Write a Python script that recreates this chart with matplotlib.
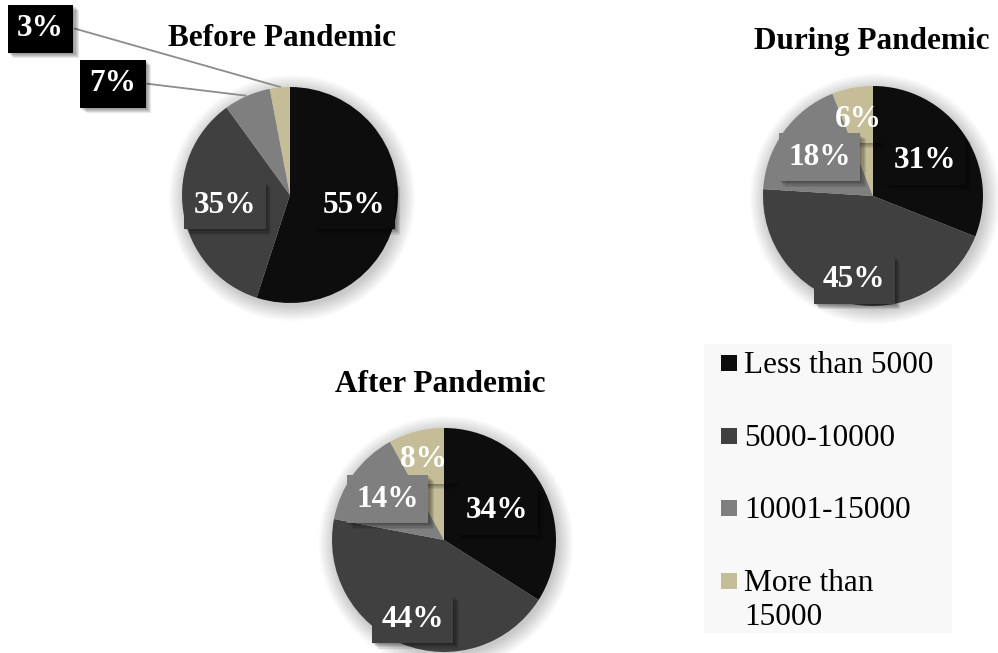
import numpy as np
import matplotlib
matplotlib.use("Agg")
import matplotlib.pyplot as plt
from matplotlib.patches import Circle, Rectangle
import matplotlib.patheffects as pe

# ---- data -------------------------------------------------------------
categories = ["Less than 5000", "5000-10000", "10001-15000", "More than\n15000"]
colors = ["#0d0d0d", "#404040", "#7f7f7f", "#c4bd97"]

before_vals = [55, 35, 7, 3]
during_vals = [31, 45, 18, 6]
after_vals = [34, 44, 14, 8]

titles = ["Before Pandemic", "During Pandemic", "After Pandemic"]

# ---- figure -----------------------------------------------------------
W, H = 998, 653
fig = plt.figure(figsize=(W / 100, H / 100), dpi=100)
ax = fig.add_axes([0, 0, 1, 1])
ax.set_axis_off()
ax.set_xlim(0, W)
ax.set_ylim(0, H)

FONT = "Liberation Serif"
FS = 22.5
renderer = fig.canvas.get_renderer()


def py(y):
    """convert a top-down pixel row to the upward axis coordinate"""
    return H - y


def halo(cx, cy, r):
    # soft drop shadow under a pie
    for k in range(18):
        ax.add_patch(Circle((cx + 2, cy - 3), r + k * 0.9,
                            facecolor="black", edgecolor="none",
                            alpha=0.012, zorder=1))


# blurred drop shadow for the label boxes
box_shadow = [pe.SimplePatchShadow(offset=(d, -d), shadow_rgbFace="black",
                                   alpha=0.09) for d in (0.8, 1.6, 2.4, 3.2, 4.0)]
box_shadow.append(pe.Normal())


def label(x, y, txt, face, clear=False):
    t = ax.text(x, y, txt, ha="center", va="center", color="white",
                fontsize=FS, fontweight="bold", family=FONT, zorder=6,
                bbox=dict(boxstyle="square,pad=0.3",
                          facecolor="none" if clear else face,
                          edgecolor="none"))
    if not clear:
        t.get_bbox_patch().set_path_effects(box_shadow)
    else:
        # see-through box: only the shadow strip along its lower edge shows
        t.draw(renderer)
        bb = t.get_bbox_patch().get_window_extent(renderer)
        for k in range(5):
            ax.add_patch(Rectangle((bb.x0 + 3, bb.y0 - 1 - k), bb.width, 1,
                                   facecolor="black", edgecolor="none",
                                   alpha=0.32 - 0.06 * k, zorder=5))
    return t


def draw_pie(vals, cx, cy, r, fracs, outside=None):
    halo(cx, cy, r)
    wedges, _ = ax.pie(vals, colors=colors, center=(cx, cy), radius=r,
                       startangle=90, counterclock=False,
                       wedgeprops=dict(linewidth=0, edgecolor="none"))
    for w in wedges:
        w.set_zorder(3)
    ax.set_xlim(0, W)
    ax.set_ylim(0, H)
    outside = outside or {}
    for i, (v, w) in enumerate(zip(vals, wedges)):
        txt = f"{v}%"
        if i in outside:
            (lx, ly), (ex, ey) = outside[i]
            bx, by = cx + lx * r, cy + ly * r
            label(bx, by, txt, "black")
            # leader line from the box edge to the wedge rim
            ax.plot([bx + 0.32 * r, cx + ex * r], [by, cy + ey * r],
                    color="#8c8c8c", lw=1.3, zorder=2)
            continue
        mid = np.deg2rad((w.theta1 + w.theta2) / 2)
        f = fracs[i]
        label(cx + f * r * np.cos(mid), cy + f * r * np.sin(mid), txt,
              colors[i], clear=(i == 3))


# Before pandemic: the two small slices are labelled outside the pie
draw_pie(before_vals, 290, py(195), 108, [0.6, 0.61, 0, 0],
         outside={2: ((-1.64, 1.03), (-0.41, 0.92)),
                  3: ((-2.31, 1.54), (-0.09, 1.0))})
draw_pie(during_vals, 873, py(196), 110, [0.57, 0.78, 0.6, 0.71])
draw_pie(after_vals, 444, py(540), 112, [0.54, 0.76, 0.62, 0.74])

ax.text(282, py(38), titles[0], ha="center", va="center", fontsize=FS,
        fontweight="bold", family=FONT)
ax.text(872, py(42), titles[1], ha="center", va="center", fontsize=FS,
        fontweight="bold", family=FONT)
ax.text(440, py(385), titles[2], ha="center", va="center", fontsize=FS,
        fontweight="bold", family=FONT)

# ---- legend -----------------------------------------------------------
ax.add_patch(Rectangle((704, py(633)), 248, 289, facecolor="#f8f8f8",
                       edgecolor="none", zorder=0))
rows = [363, 436, 508, 581]
for cat, col, ry in zip(categories, colors, rows):
    ax.add_patch(Rectangle((721, py(ry) - 8), 16, 16, facecolor=col,
                           edgecolor="none", zorder=4))
    ax.text(744, py(ry) + 12, cat, ha="left", va="top", fontsize=FS,
            family=FONT, linespacing=1.22, zorder=4)

ax.set_xlim(0, W)
ax.set_ylim(0, H)
ax.set_aspect("auto")
fig.savefig("out.png", dpi=100, facecolor="white")
